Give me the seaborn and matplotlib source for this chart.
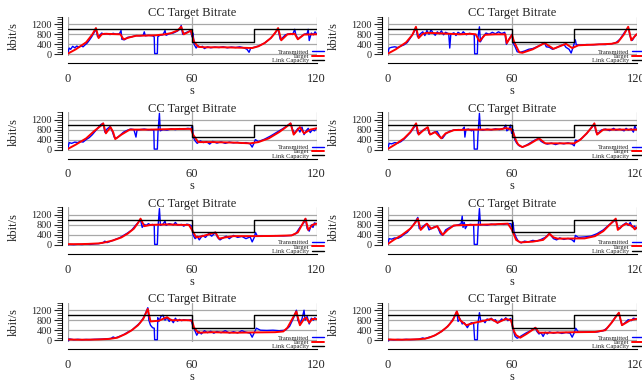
import matplotlib
matplotlib.use("Agg")
import matplotlib.pyplot as plt
from matplotlib.lines import Line2D
from matplotlib.ticker import MultipleLocator
import seaborn as sns

# link capacity (same in every run), step changes at 60 s and 90 s
cap_t = [0, 60, 90, 120]
cap_v = [1000, 500, 1000, 1000]

# run 1
p1_target = [(0, 20), (4, 200), (9, 480), (12, 800), (13.7, 1050), (15, 650), (16.5, 800), (18, 820),
             (25.5, 800), (27, 600), (30, 680), (33, 740), (42.5, 760), (47, 800), (50, 850), (53, 950),
             (54.8, 1100), (56, 800), (58, 880), (59.5, 950), (61, 500), (63, 300), (66, 280), (75, 280),
             (85, 260), (89, 250), (92, 320), (95, 450), (98, 650), (100, 850), (101.5, 1050), (103, 560),
             (106, 800), (109.5, 820), (111, 600), (114, 790), (120, 800)]
p1_sent = [(0, 0), (0.8, 250), (1.5, 200), (2.5, 320), (3.5, 260), (4.5, 330), (5.5, 280), (6.5, 340),
           (7.5, 300), (8.5, 380), (9.5, 450), (10.5, 560), (11.5, 680), (12.5, 820), (13.7, 1000),
           (14.5, 700), (15.5, 760), (16.5, 850), (17.5, 800), (19, 830), (20.5, 790), (22, 840),
           (23.5, 800), (25, 820), (25.8, 950), (26.2, 600), (27.5, 580), (29, 680), (31, 700), (33, 750),
           (35, 740), (36.5, 760), (37, 900), (37.5, 740), (39, 760), (41, 740), (41.8, 700), (42, 30),
           (43.3, 30), (43.5, 700), (44.5, 760), (46, 780), (47, 950), (47.5, 760), (49, 820), (51, 850),
           (53, 930), (54, 1000), (54.8, 1150), (55.5, 800), (56.5, 850), (58, 900), (59.3, 950),
           (60, 700), (60.5, 850), (61, 400), (62, 250), (62.8, 350), (64, 280), (65, 320), (66, 230),
           (67.5, 300), (69, 260), (71, 290), (73, 270), (75, 300), (77, 260), (79, 290), (81, 270),
           (83, 300), (85, 260), (86.5, 200), (87.5, 80), (88.3, 250), (90, 280), (92, 330), (95, 450),
           (98, 650), (100, 850), (101.5, 1000), (102.5, 600), (103.5, 650), (105, 780), (106, 800),
           (107.5, 830), (108.5, 790), (109.5, 1000), (110, 800), (111, 620), (112.5, 700), (114, 800),
           (115.5, 830), (116, 1000), (116.5, 550), (117.5, 850), (118.5, 780), (119.3, 900), (120, 820)]

# run 2
p2_target = [(0, 20), (4, 200), (9, 480), (12, 780), (13.7, 1100), (15, 650), (17, 820), (19, 860),
             (25, 840), (30, 820), (35, 800), (40, 820), (42.5, 800), (44.3, 520), (47, 780), (52, 800),
             (56.8, 800), (57.5, 450), (60, 780), (61, 500), (63.5, 80), (65, 60), (70, 200), (75.7, 450),
             (80, 220), (86, 420), (89, 250), (92, 360), (100, 390), (108, 420), (111, 480), (114, 800),
             (116, 1100), (117.5, 560), (120, 800)]
p2_sent = [(0, 0), (0.8, 250), (2, 280), (3.5, 300), (5, 270), (6.5, 330), (8, 380), (9.5, 470), (11, 650),
           (12.5, 850), (13.7, 1050), (14.5, 700), (16, 830), (17, 900), (18, 750), (19, 950), (20, 800),
           (21, 980), (22, 850), (23, 760), (24, 900), (25, 820), (26, 940), (27, 780), (28, 880),
           (29.5, 820), (30, 250), (30.5, 800), (32, 860), (33, 750), (34, 880), (35.5, 800), (36.5, 900),
           (38, 780), (39.5, 840), (41, 800), (41.8, 780), (42, 20), (43.3, 20), (43.5, 600), (44.3, 1100),
           (44.8, 500), (46, 700), (47.5, 850), (49, 800), (50.5, 880), (52, 820), (53.5, 900), (55, 830),
           (56.5, 880), (57.3, 400), (58.5, 600), (60, 800), (60.5, 450), (61.5, 300), (62.5, 100),
           (64, 80), (66, 130), (68, 200), (70, 230), (72, 300), (74, 380), (75.7, 470), (76.5, 300),
           (78, 280), (79.5, 200), (81, 250), (83, 330), (85, 400), (86, 280), (87.5, 200), (88.5, 50),
           (89.5, 300), (90.5, 580), (91, 380), (93, 370), (96, 390), (99, 380), (102, 400), (105, 390),
           (108, 420), (110, 460), (112, 600), (114, 850), (116, 1080), (117, 700), (118, 560),
           (119, 700), (120, 800)]

# run 3
p3_target = [(0, 20), (4, 200), (9, 450), (13, 750), (16, 950), (17.2, 1050), (18.5, 650), (20.7, 900),
             (22, 700), (23, 420), (26, 600), (30, 800), (40, 800), (50, 820), (59.5, 830), (60.5, 600),
             (63, 300), (70, 300), (80, 280), (88, 250), (92, 300), (97, 450), (102, 700), (105, 880),
             (107.5, 1050), (109, 600), (112, 900), (114, 650), (117, 800), (120, 850)]
p3_sent = [(0, 0), (0.8, 280), (2, 250), (3.5, 300), (5, 280), (6, 330), (7.5, 300), (9, 400), (10.5, 480),
           (12, 600), (14, 800), (16, 1000), (17.2, 1050), (18, 700), (19, 820), (20.5, 920), (21.5, 750),
           (22.5, 500), (23.5, 450), (25, 550), (27, 700), (29, 780), (30.5, 820), (32, 800), (33, 500),
           (33.5, 780), (35, 800), (37, 820), (39, 790), (40.5, 800), (41.6, 780), (41.8, 20), (43.3, 20),
           (43.6, 700), (44.3, 1450), (44.7, 750), (46, 800), (48, 780), (50, 830), (52, 800), (54, 840),
           (56, 820), (58, 850), (59.5, 830), (60.2, 950), (60.6, 500), (61.5, 350), (62.5, 250),
           (64, 350), (65.5, 280), (67, 320), (68.5, 220), (70, 330), (72, 260), (74, 310), (76, 250),
           (78, 300), (80, 270), (82, 290), (84, 250), (86, 280), (88, 230), (89, 100), (90, 280),
           (90.5, 400), (92, 320), (95, 420), (98, 550), (101, 700), (104, 850), (107.5, 1050),
           (108.5, 800), (109.5, 650), (111, 850), (112, 700), (113, 900), (114, 600), (115, 750),
           (116, 850), (117, 680), (118, 800), (119, 750), (120, 850)]

# run 4
p4_target = [(0, 20), (4, 220), (8, 450), (11, 700), (13.8, 1050), (15, 600), (17, 750), (19.4, 900),
             (20.5, 600), (23, 700), (25.9, 450), (28, 650), (32, 780), (40, 800), (50, 800), (55, 820),
             (57, 860), (59.5, 820), (60.5, 700), (62, 350), (63, 200), (65, 100), (68, 200), (71, 350),
             (73, 450), (76, 250), (82, 250), (90, 250), (93, 400), (96, 650), (98.5, 900), (99.7, 1050),
             (101, 600), (104, 800), (112, 800), (120, 800)]
p4_sent = [(0, 0), (0.8, 250), (2, 230), (3.5, 280), (5, 260), (6.5, 320), (8, 420), (9.5, 550), (11, 680),
           (12.5, 850), (13.8, 1000), (14.5, 650), (16, 700), (17.5, 800), (19.4, 880), (20, 650),
           (21, 620), (22.5, 700), (24, 720), (25.5, 500), (26.5, 450), (28, 620), (30, 740), (32, 780),
           (34, 800), (36, 790), (37, 900), (37.3, 500), (37.8, 800), (39, 820), (40.5, 750), (41.5, 800),
           (41.8, 20), (43.3, 20), (43.6, 600), (44.3, 1450), (44.8, 800), (46, 780), (48, 820), (50, 790),
           (52, 830), (54, 800), (56, 850), (57, 980), (57.5, 750), (58.5, 820), (59.3, 980), (59.8, 650),
           (60.5, 800), (61.3, 400), (62.3, 250), (63.5, 150), (65, 100), (67, 180), (69, 280), (71, 380),
           (73, 450), (74, 330), (75, 280), (77, 220), (79, 260), (81, 200), (83, 260), (85, 230),
           (87, 270), (89, 220), (90, 150), (90.5, 380), (92, 350), (94, 480), (96, 640), (98, 850),
           (99.7, 1000), (100.5, 700), (101.5, 650), (103, 780), (105, 820), (107, 760), (109, 850),
           (110, 780), (112, 820), (114, 750), (115, 850), (116, 780), (117.5, 830), (118.5, 700),
           (119.2, 950), (120, 800)]

# run 5
p5_target = [(0, 30), (5, 30), (10, 40), (15, 60), (18, 100), (22, 180), (26, 300), (29, 450), (32, 650),
             (34, 880), (35.2, 1050), (37, 750), (40, 800), (48, 820), (55, 800), (58.5, 800), (60, 600),
             (62, 300), (65, 350), (68, 420), (71.3, 500), (73, 250), (76, 300), (80, 350), (90, 350),
             (100, 360), (108, 380), (111, 500), (113, 800), (114.7, 1050), (116, 600), (118, 800),
             (120, 850)]
p5_sent = [(0, 0), (1, 20), (3, 10), (5, 25), (7, 15), (9, 30), (11, 20), (13, 40), (15, 50), (17, 80),
           (18, 150), (19, 90), (21, 150), (23, 220), (25, 280), (27, 380), (29, 480), (31, 600), (33, 800),
           (35.2, 1000), (36, 700), (37, 820), (38, 780), (39, 850), (40, 800), (41, 820), (41.8, 780),
           (42, 20), (43.3, 20), (43.6, 700), (44.3, 1450), (44.8, 780), (46, 830), (47, 950), (47.5, 780),
           (49, 850), (51, 800), (52, 900), (53, 790), (55, 820), (56, 750), (57.5, 830), (59, 800),
           (60, 750), (60.5, 400), (61.5, 250), (62.5, 350), (63.5, 200), (65, 380), (66.5, 300), (68, 450),
           (69.5, 350), (71.3, 500), (72.3, 300), (73.5, 200), (75, 280), (76.5, 350), (78, 250), (80, 380),
           (82, 300), (84, 340), (86, 250), (88, 320), (89, 120), (90, 300), (90.6, 500), (91.5, 350),
           (94, 360), (97, 350), (100, 370), (104, 360), (108, 380), (110, 450), (112, 700), (114, 900),
           (114.7, 1050), (115.5, 650), (116.5, 550), (117.5, 800), (118.3, 700), (119, 880), (120, 850)]

# run 6
p6_target = [(0, 30), (3, 200), (7, 400), (11, 650), (13.5, 900), (14.6, 1050), (16, 600), (19, 850),
             (21, 650), (24, 750), (26.6, 400), (29, 600), (32, 780), (40, 800), (50, 820), (58, 850),
             (60, 600), (62, 200), (64, 100), (70, 130), (75, 200), (77, 350), (78, 450), (80, 300),
             (82, 250), (95, 260), (100, 350), (104, 550), (107, 800), (110, 1050), (111, 600), (113, 750),
             (115, 850), (118, 750), (119.2, 620), (120, 700)]
p6_sent = [(0, 0), (0.8, 250), (2, 230), (3.5, 280), (5, 260), (6.5, 320), (8, 420), (9.5, 500), (11, 650),
           (12.5, 800), (14.6, 1100), (15.3, 650), (16.5, 700), (18, 800), (19, 850), (20, 600), (21, 650),
           (22.5, 720), (24, 740), (25.5, 450), (26.6, 380), (28, 600), (30, 700), (32, 760), (34, 800),
           (35.5, 850), (36, 1150), (36.4, 700), (37, 900), (37.5, 650), (38.5, 800), (40, 820),
           (41.5, 800), (41.8, 20), (43.3, 20), (43.6, 600), (44.3, 1450), (44.8, 800), (46, 810),
           (48, 790), (50, 830), (52, 810), (54, 840), (56, 820), (58, 850), (59.5, 850), (60, 700),
           (60.5, 900), (61, 500), (62, 300), (63, 150), (64.5, 80), (66, 150), (68, 120), (70, 180),
           (72, 150), (74, 220), (76, 300), (78, 450), (79, 350), (80, 250), (81.5, 200), (83, 280),
           (85, 220), (87, 260), (89, 200), (90, 120), (90.5, 380), (92, 300), (95, 320), (98, 350),
           (101, 450), (104, 600), (107, 820), (110, 1000), (111, 700), (112, 650), (113.5, 800),
           (115, 880), (116, 780), (117, 900), (118, 700), (119, 750), (120, 650)]

# run 7
p7_target = [(0, 30), (5, 20), (10, 20), (15, 30), (20, 50), (24, 100), (28, 250), (31, 400), (34, 600),
             (36.5, 850), (38.7, 1250), (40, 750), (44, 780), (46, 850), (48, 920), (50, 800), (54, 800),
             (58, 800), (60, 780), (61, 500), (63, 300), (70, 320), (80, 300), (90, 310), (100, 320),
             (104, 350), (106, 500), (108, 800), (110.3, 1150), (112, 600), (114, 850), (115, 900),
             (116.5, 700), (118, 850), (120, 850)]
p7_sent = [(0, 80), (0.5, -20), (1, 50), (3, 20), (5, 35), (7, 20), (9, 30), (11, 25), (13, 35), (15, 40),
           (17, 45), (19, 60), (21, 70), (22, 130), (23, 90), (25, 150), (27, 220), (29, 320), (31, 400),
           (33, 550), (35, 700), (37, 950), (38.7, 1300), (39.2, 800), (40, 600), (41, 500), (41.8, 480),
           (42, 20), (43.3, 20), (43.5, 900), (44, 750), (45, 950), (46, 1000), (47, 800), (48, 900),
           (49, 750), (50, 830), (51, 700), (52, 880), (53, 760), (54, 830), (55, 780), (56, 820),
           (58, 790), (59.5, 820), (60.3, 600), (61.3, 400), (62.3, 200), (63.3, 350), (64.5, 250),
           (66, 380), (67.5, 300), (69, 360), (70.5, 280), (72, 350), (74, 300), (76, 380), (78, 290),
           (80, 340), (82, 290), (84, 380), (86, 320), (88, 280), (89, 120), (90, 300), (91, 480),
           (93, 400), (96, 390), (99, 400), (102, 380), (105, 400), (107, 550), (109, 900), (110.3, 1200),
           (111, 800), (112, 650), (113, 850), (114, 1200), (114.5, 800), (115.5, 950), (116.5, 650),
           (117.5, 880), (118.5, 800), (119.2, 900), (120, 830)]

# run 8
p8_target = [(0, 30), (5, 20), (10, 25), (15, 40), (18, 60), (20, 100), (23, 200), (26, 350), (29, 550),
             (31.5, 800), (33.4, 1150), (35, 800), (38, 600), (42, 700), (45, 750), (50, 850), (53, 700),
             (57, 850), (59.5, 800), (61, 350), (62, 200), (64, 100), (67, 250), (70, 420), (71.3, 500),
             (73, 300), (80, 300), (90, 320), (100, 330), (105, 400), (108, 700), (111.5, 1100),
             (113, 600), (117, 800), (120, 850)]
p8_sent = [(0, 60), (0.5, -20), (1, 30), (3, 15), (5, 30), (7, 20), (9, 35), (11, 25), (13, 30), (15, 40),
           (17, 90), (18, 60), (20, 120), (22, 160), (24, 250), (26, 350), (28, 480), (30, 650), (32, 900),
           (33.4, 1150), (34, 750), (35, 850), (36, 650), (37, 700), (38.5, 500), (39.5, 650), (40.5, 700),
           (41.5, 680), (42, 20), (43.3, 20), (43.5, 600), (44.3, 1100), (45, 750), (46, 800), (47, 700),
           (48, 850), (49, 800), (50, 880), (51, 780), (52, 820), (53, 680), (54, 750), (55, 850),
           (56, 800), (57, 900), (58, 780), (59.3, 870), (60, 650), (60.6, 400), (61.5, 150), (62.5, 80),
           (63.5, 120), (65, 200), (67, 300), (69, 380), (71.3, 500), (72, 350), (73, 250), (74, 300),
           (75, 150), (76, 320), (77, 250), (78, 330), (80, 280), (82, 320), (84, 270), (86, 310),
           (88, 280), (89, 120), (90, 300), (90.7, 480), (92, 320), (95, 330), (98, 340), (101, 330),
           (104, 380), (106, 500), (108, 700), (110, 950), (111.5, 1080), (112.3, 800), (113, 600),
           (114.5, 700), (116, 820), (117.5, 780), (118.5, 880), (120, 850)]

runs = [(p1_target, p1_sent), (p2_target, p2_sent),
        (p3_target, p3_sent), (p4_target, p4_sent),
        (p5_target, p5_sent), (p6_target, p6_sent),
        (p7_target, p7_sent), (p8_target, p8_sent)]

sns.set_style("white")
plt.rcParams['font.family'] = ['Liberation Serif', 'DejaVu Serif']

W, H = 642, 382
fig = plt.figure(figsize=(W / 100, H / 100), dpi=100)

for i, (target, sent) in enumerate(runs):
    row, col = divmod(i, 2)
    left = 67.5 if col == 0 else 387.5
    top = 16.8 + 95.3 * row
    ax = fig.add_axes([left / W, 1 - (top + 39.0) / H, 249 / W, 39.0 / H])

    sns.lineplot(x=[p[0] for p in sent], y=[p[1] for p in sent], ax=ax, color='#0000ff',
                 linewidth=1.0, sort=False, estimator=None)
    sns.lineplot(x=[p[0] for p in target], y=[p[1] for p in target], ax=ax, color='#ff0000',
                 linewidth=1.4, sort=False, estimator=None)
    sns.lineplot(x=cap_t, y=cap_v, ax=ax, color='black', linewidth=1.0, drawstyle='steps-post',
                 sort=False, estimator=None)

    ax.set_xlim(0, 120)
    ax.set_ylim(-60, 1500)
    ax.set_xticks([0, 60, 120])
    ax.set_yticks([0, 400, 800, 1200])
    ax.yaxis.set_minor_locator(MultipleLocator(100))
    ax.grid(True, which='major', color='#a8a8a8', linewidth=0.9)
    ax.set_axisbelow(True)

    for s in ['top', 'right']:
        ax.spines[s].set_visible(False)
    ax.spines['bottom'].set_position(('outward', 5.4))
    ax.spines['left'].set_position(('outward', 4.3))
    ax.spines['left'].set_bounds(0, 1500)
    for s in ['bottom', 'left']:
        ax.spines[s].set_linewidth(0.8)
        ax.spines[s].set_color('black')

    ax.tick_params(axis='x', direction='in', length=3, width=0.8, pad=7, labelsize=9)
    ax.tick_params(axis='y', which='major', direction='out', length=5.8, width=0.8, pad=1,
                   labelsize=7.5, left=True)
    ax.tick_params(axis='y', which='minor', direction='out', length=3.6, width=0.6, left=True)

    ax.set_title('CC Target Bitrate', fontsize=9, pad=0.3)
    ax.set_xlabel('s', fontsize=9, labelpad=0)
    ax.set_ylabel('kbit/s', fontsize=9)
    ax.yaxis.set_label_coords(-0.193, 0.5)

    handles = [Line2D([], [], color='#0000ff', lw=1.0),
               Line2D([], [], color='#ff0000', lw=1.4),
               Line2D([], [], color='black', lw=1.0)]
    ax.legend(handles, ['Transmitted', 'Target', 'Link Capacity'], loc='lower right',
              bbox_to_anchor=(1.03, -0.19), frameon=False, markerfirst=False, fontsize=4.7,
              handlelength=1.8, handletextpad=0.4, labelspacing=-0.2, borderpad=0,
              borderaxespad=0)

fig.savefig('out.png', dpi=100)
